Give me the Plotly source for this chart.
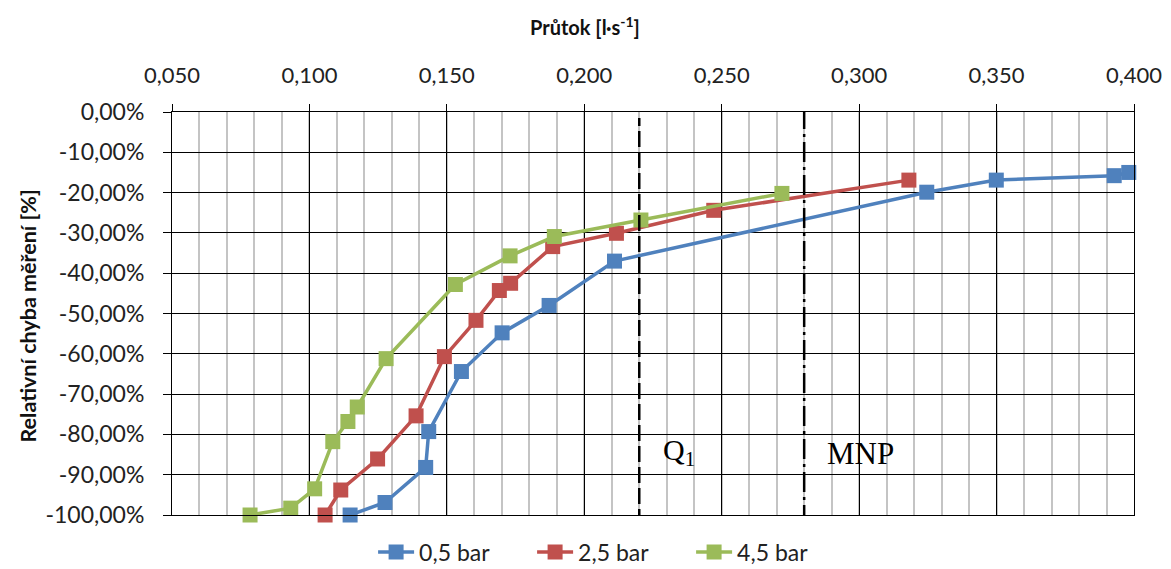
import plotly.graph_objects as go

# Data (x: flow l/s, y: relative error %)
x_05 = [0.1148, 0.1275, 0.1423, 0.1434, 0.1553, 0.1701, 0.1872, 0.2110, 0.3246, 0.3499, 0.3928, 0.3981]
y_05 = [-100.0, -96.9, -88.2, -79.3, -64.4, -54.8, -48.0, -37.0, -19.9, -16.9, -15.8, -15.0]

x_25 = [0.1057, 0.1114, 0.1248, 0.1388, 0.1491, 0.1606, 0.1691, 0.1732, 0.1885, 0.2117, 0.2471, 0.3181]
y_25 = [-100.0, -93.8, -86.1, -75.4, -60.7, -51.7, -44.3, -42.5, -33.4, -30.1, -24.4, -16.9]

x_45 = [0.0784, 0.0932, 0.1019, 0.1085, 0.1140, 0.1174, 0.1279, 0.1531, 0.1730, 0.1891, 0.2206, 0.2719]
y_45 = [-100.0, -98.3, -93.5, -81.8, -76.8, -73.2, -61.2, -42.8, -35.7, -30.9, -26.8, -20.2]

series_names = ["0,5 bar", "2,5 bar", "4,5 bar"]
series_colors = ["#4F81BD", "#C0504D", "#9BBB59"]

x_ticks = [0.05, 0.10, 0.15, 0.20, 0.25, 0.30, 0.35, 0.40]
x_ticktext = ["0,050", "0,100", "0,150", "0,200", "0,250", "0,300", "0,350", "0,400"]
y_ticks = [0, -10, -20, -30, -40, -50, -60, -70, -80, -90, -100]
y_ticktext = ["0,00%", "-10,00%", "-20,00%", "-30,00%", "-40,00%", "-50,00%",
              "-60,00%", "-70,00%", "-80,00%", "-90,00%", "-100,00%"]

Q1 = 0.22
MNP = 0.28

FONT = "Lato, Open Sans, sans-serif"
SERIF = "Liberation Serif, Times New Roman, serif"

fig = go.Figure()
for xs, ys, name, col in zip([x_05, x_25, x_45], [y_05, y_25, y_45], series_names, series_colors):
    fig.add_trace(go.Scatter(
        x=xs, y=ys, name=name, mode="lines+markers",
        line=dict(color=col, width=3.5),
        marker=dict(symbol="square", size=15, color=col),
        cliponaxis=False,
    ))

# Vertical reference lines
fig.add_shape(type="line", xref="x", yref="y", x0=Q1, x1=Q1, y0=-102.5, y1=-1.5,
              line=dict(color="black", width=2.5, dash="16px,5px"))
fig.add_shape(type="line", xref="x", yref="y", x0=MNP, x1=MNP, y0=-102.5, y1=0,
              line=dict(color="black", width=2.5, dash="20px,5px,3px,5px"))

fig.add_annotation(x=Q1, y=-89.5, xref="x", yref="y", xanchor="left", yanchor="bottom",
                   xshift=22, text="Q<sub>1</sub>", showarrow=False,
                   font=dict(family=SERIF, size=30, color="black"))
fig.add_annotation(x=MNP, y=-89.5, xref="x", yref="y", xanchor="left", yanchor="bottom",
                   xshift=21, text="MNP", showarrow=False,
                   font=dict(family=SERIF, size=31, color="black"))

# Axis titles (x title sits left of centre, as in the original)
fig.add_annotation(x=0.429, y=1.2134, xref="paper", yref="paper", xanchor="center", yanchor="middle",
                   text="<b>Průtok [l·s<sup>-1</sup>]</b>", showarrow=False,
                   font=dict(family=FONT, size=20, color="#111"))
fig.add_annotation(x=-0.1497, y=0.495, xref="paper", yref="paper", xanchor="center", yanchor="middle",
                   text="<b>Relativní chyba měření [%]</b>", showarrow=False, textangle=-90,
                   font=dict(family=FONT, size=21.5, color="#111"))

# the page body adds an 8px offset, so the figure is drawn 8px smaller
fig.update_layout(
    width=1163, height=561,
    margin=dict(l=164, r=37, t=104, b=54),
    paper_bgcolor="white", plot_bgcolor="white",
    font=dict(family=FONT, size=22, color="#222"),
    legend=dict(orientation="h", xref="container", yref="container",
                x=0.519, xanchor="center", y=0.0303, yanchor="middle",
                font=dict(size=23, color="#222"), itemwidth=36, tracegroupgap=0,
                entrywidth=108, entrywidthmode="pixels"),
    showlegend=True,
)

fig.update_xaxes(
    side="top", range=[0.05, 0.40], automargin=False,
    tickvals=x_ticks, ticktext=x_ticktext,
    ticks="outside", ticklen=7, tickcolor="black", tickwidth=1,
    ticklabelstandoff=12,
    showgrid=True, gridcolor="black", gridwidth=1,
    minor=dict(dtick=0.01, tick0=0.05, showgrid=True, gridcolor="#c4c4c4", gridwidth=1.5, ticks=""),
    showline=True, linecolor="black", linewidth=1, mirror=True,
    zeroline=False,
)
fig.update_yaxes(
    range=[-100, 0], automargin=False,
    tickvals=y_ticks, ticktext=y_ticktext,
    tickfont=dict(size=23),
    ticks="outside", ticklen=8, tickcolor="black", tickwidth=1,
    ticklabelstandoff=14,
    showgrid=True, gridcolor="black", gridwidth=1.3,
    showline=True, linecolor="black", linewidth=1, mirror=True,
    zeroline=False,
)

fig.write_html("out.html")
